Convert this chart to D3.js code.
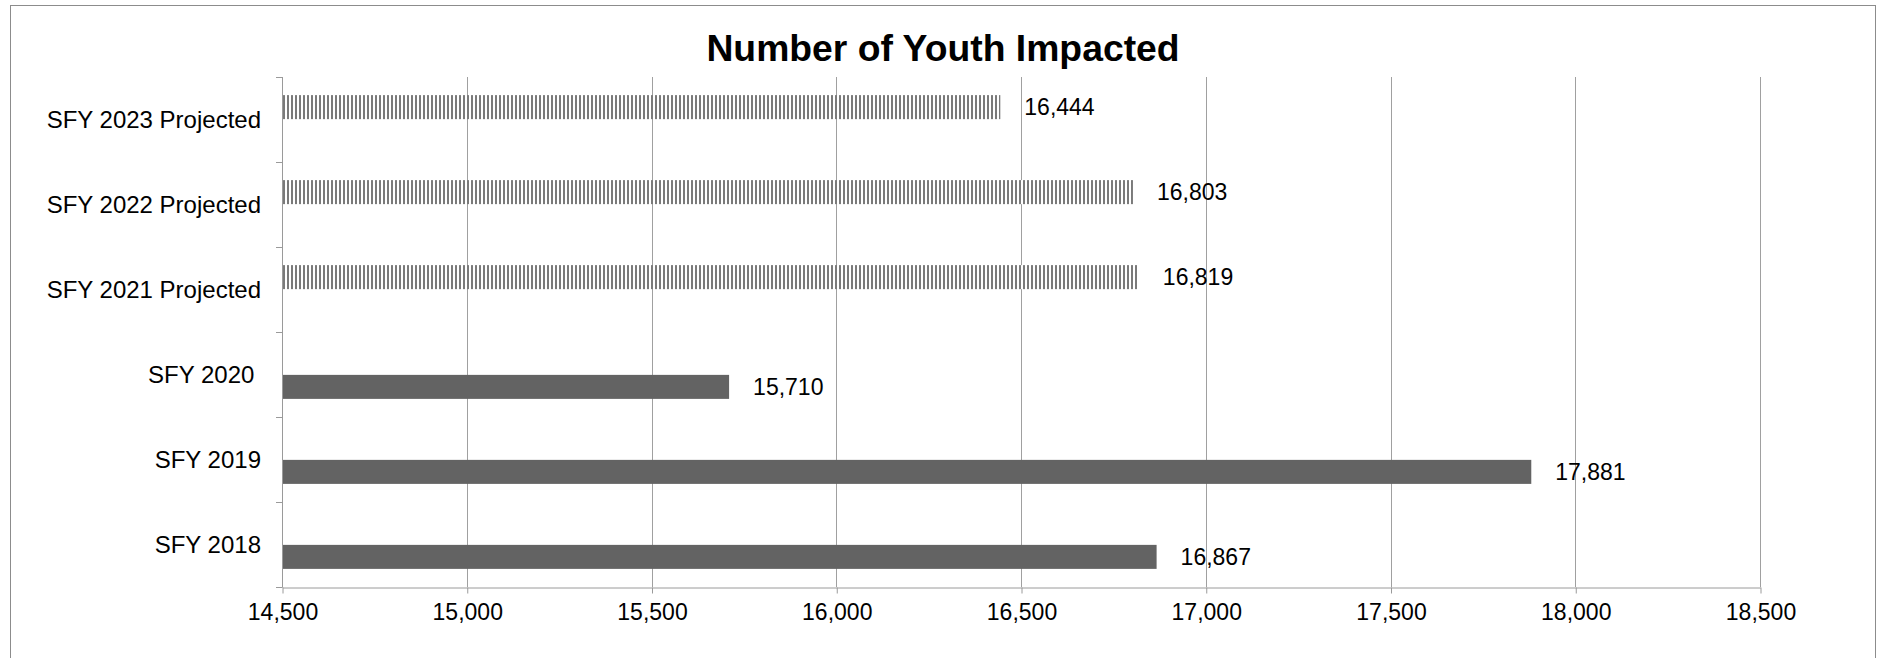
<!DOCTYPE html>
<html>
<head>
<meta charset="utf-8">
<script src="https://cdn.jsdelivr.net/npm/d3@7/dist/d3.min.js"></script>
<style>
  html, body { margin: 0; padding: 0; background: #fff; }
  svg { display: block; }
  text { font-family: "Liberation Sans", Arial, sans-serif; }
</style>
</head>
<body>
<svg id="chart" width="1879" height="658"></svg>
<script>
// ---- Data ----
const categories = ["SFY 2023 Projected", "SFY 2022 Projected", "SFY 2021 Projected", "SFY 2020 ", "SFY 2019", "SFY 2018"];
const seriesNames = ["Projected", "Actual"];
const projectedValues = [16444, 16803, 16819, null, null, null];
const actualValues = [null, null, null, 15710, 17881, 16867];
const xTicks = [14500, 15000, 15500, 16000, 16500, 17000, 17500, 18000, 18500];
const title = "Number of Youth Impacted";

// ---- Layout ----
const W = 1879, H = 658;
const plot = { left: 282, right: 1760, top: 77, bottom: 587 };

const svg = d3.select("#chart");

// pattern for projected bars (vertical stripes)
const defs = svg.append("defs");
const pat = defs.append("pattern")
  .attr("id", "vstripe")
  .attr("patternUnits", "userSpaceOnUse")
  .attr("x", plot.left + 1).attr("y", 0)
  .attr("width", 4).attr("height", 10);
pat.append("rect").attr("width", 4).attr("height", 10).attr("fill", "#ffffff");
pat.append("rect").attr("width", 2).attr("height", 10).attr("fill", "#7a7a7a");

// outer frame
svg.append("rect")
  .attr("x", 10.5).attr("y", 5.5)
  .attr("width", 1865).attr("height", 670)
  .attr("fill", "none").attr("stroke", "#8c8c8c").attr("stroke-width", 1);

// scales
const x = d3.scaleLinear().domain([14500, 18500]).range([plot.left, plot.right]);
const y = d3.scaleBand().domain(categories).range([plot.top, plot.bottom]).padding(0);
const sub = d3.scaleBand().domain(seriesNames).range([0, y.bandwidth()])
  .paddingInner(0.03).paddingOuter(0.732);

// title
svg.append("text")
  .attr("x", 943).attr("y", 61)
  .attr("text-anchor", "middle")
  .style("font-size", "37.3px").style("font-weight", "bold")
  .attr("fill", "#000")
  .text(title);

// gridlines
svg.append("g").selectAll("line")
  .data(xTicks.slice(1))
  .join("line")
  .attr("x1", d => Math.round(x(d)) + 0.5).attr("x2", d => Math.round(x(d)) + 0.5)
  .attr("y1", plot.top).attr("y2", plot.bottom)
  .attr("stroke", "#a0a0a0").attr("stroke-width", 1);

// x axis
const xAxis = d3.axisBottom(x).tickValues(xTicks).tickFormat(d3.format(",")).tickSizeInner(6).tickSizeOuter(0).tickPadding(10);
const gx = svg.append("g").attr("transform", `translate(0.5,${plot.bottom + 0.5})`).call(xAxis);
gx.select(".domain").attr("stroke", "#9a9a9a");
gx.selectAll(".tick line").attr("stroke", "#9a9a9a");
gx.selectAll(".tick text")
  .style("font-size", "23px").style("font-family", "'Liberation Sans', Arial, sans-serif")
  .attr("fill", "#000").attr("dy", "0.71em");

// y axis: line + ticks at band boundaries
const gy = svg.append("g");
gy.append("line")
  .attr("x1", plot.left + 0.5).attr("x2", plot.left + 0.5)
  .attr("y1", plot.top).attr("y2", plot.bottom + 0.5)
  .attr("stroke", "#9a9a9a");
const boundaries = categories.map(c => y(c)).concat([y(categories[categories.length - 1]) + y.bandwidth()]);
gy.selectAll("line.bt")
  .data(boundaries)
  .join("line").attr("class", "bt")
  .attr("x1", plot.left - 6).attr("x2", plot.left + 0.5)
  .attr("y1", d => Math.round(d) + 0.5).attr("y2", d => Math.round(d) + 0.5)
  .attr("stroke", "#9a9a9a");
gy.selectAll("text")
  .data(categories)
  .join("text")
  .attr("x", plot.left - 21)
  .attr("y", d => y(d) + y.bandwidth() / 2)
  .attr("dy", "0.36em")
  .attr("text-anchor", "end")
  .style("font-size", "24px")
  .style("white-space", "pre")
  .attr("fill", "#000")
  .text(d => d);

// bars
const series = [
  { name: "Projected", values: projectedValues, fill: "url(#vstripe)" },
  { name: "Actual", values: actualValues, fill: "#636363" }
];
const fmt = d3.format(",");
series.forEach(s => {
  const pts = categories.map((c, i) => ({ c, v: s.values[i] })).filter(d => d.v != null);
  svg.append("g").selectAll("rect")
    .data(pts)
    .join("rect")
    .attr("x", x(14500) + 1)
    .attr("y", d => y(d.c) + sub(s.name))
    .attr("width", d => x(d.v) - x(14500) - 1)
    .attr("height", sub.bandwidth())
    .attr("fill", s.fill);
  svg.append("g").selectAll("text")
    .data(pts)
    .join("text")
    .attr("x", d => x(d.v) + 24)
    .attr("y", d => y(d.c) + sub(s.name) + sub.bandwidth() / 2)
    .attr("dy", "0.36em")
    .style("font-size", "23px")
    .attr("fill", "#000")
    .text(d => fmt(d.v));
});
</script>
</body>
</html>
